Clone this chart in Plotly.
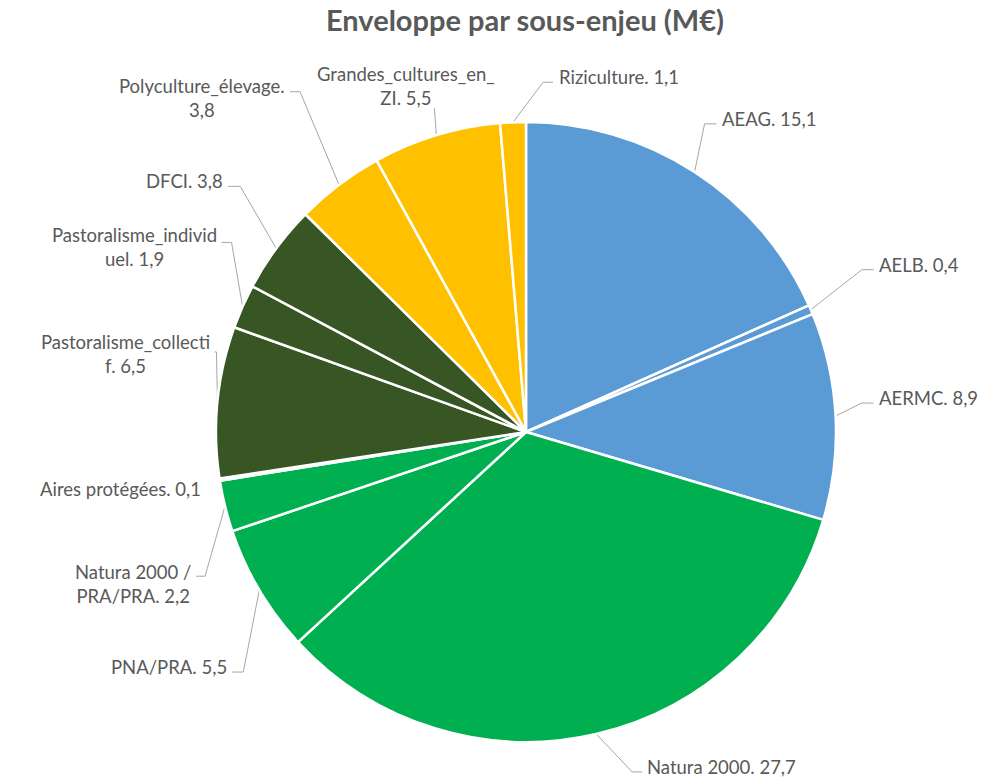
import math
import plotly.graph_objects as go

# ---- data ----
labels = ["AEAG", "AELB", "AERMC", "Natura 2000", "PNA/PRA", "Natura 2000 / PRA/PRA",
          "Aires protégées", "Pastoralisme_collectif", "Pastoralisme_individuel", "DFCI",
          "Polyculture_élevage", "Grandes_cultures_en_ZI", "Riziculture"]
values = [15.1, 0.4, 8.9, 27.7, 5.5, 2.2, 0.1, 6.5, 1.9, 3.8, 3.8, 5.5, 1.1]
label_texts = ["AEAG. 15,1", "AELB. 0,4", "AERMC. 8,9", "Natura 2000. 27,7", "PNA/PRA. 5,5",
               "Natura 2000 /<br>PRA/PRA. 2,2", "Aires protégées. 0,1",
               "Pastoralisme_collecti<br>f. 6,5", "Pastoralisme_individ<br>uel. 1,9",
               "DFCI. 3,8", "Polyculture_élevage.<br>3,8", "Grandes_cultures_en_<br>ZI. 5,5",
               "Riziculture. 1,1"]
colors = ["#5B9BD5", "#5B9BD5", "#5B9BD5", "#00B050", "#00B050", "#00B050", "#00B050",
          "#375623", "#375623", "#375623", "#FFC000", "#FFC000", "#FFC000"]

# ---- layout / label styling (pixel offsets relative to slice rim point) ----
OFF = 8                      # page body margin
W, H = 1002 - OFF, 778 - OFF  # figure size
CX, CY, R = 526, 432, 310     # pie centre / radius in window pixels
# (elbow dx, elbow dy, horizontal segment length, text x gap, text dy, xanchor, align)
label_style = [
    (10, -48, 12, 3, -5, "left", "left"),
    (51, -40, 12, 3, -5, "left", "left"),
    (26, -13, 12, 3, -5, "left", "left"),
    (36, 38, 10, 3, -5, "left", "left"),
    (-16, 82, -11, -3, -5, "right", "right"),
    (-20, 70, -9, -3, 8, "right", "center"),
    (None, None, 0, -17, 9, "right", "right"),
    (-1, -50, -2, -2, 2, "right", "center"),
    (-11, -64, -10, -3, 5, "right", "center"),
    (-36, -62, -12, -3, -5, "right", "right"),
    (-39, -93, -10, -3, 6, "right", "center"),
    (-2, -27, 0, None, None, "center", "center"),
    (30, -40, 10, 4, -5, "left", "left"),
]
LABEL_FONT = dict(family="Lato", size=18.5, color="#595959")

total = sum(values)
fig = go.Figure()
fig.add_trace(go.Pie(
    labels=labels, values=values, sort=False, direction="clockwise", rotation=0,
    marker=dict(colors=colors, line=dict(color="white", width=2.5)),
    textinfo="none", hoverinfo="label+value", showlegend=False,
    domain=dict(x=[(CX - R - OFF) / W, (CX + R - OFF) / W],
                y=[1 - (CY + R - OFF) / H, 1 - (CY - R - OFF) / H]),
))

annotations = []
cum = 0.0
lx, ly = [], []
for v, txt, st in zip(values, label_texts, label_style):
    mid = (cum + v / 2) / total * 2 * math.pi
    cum += v
    rx = CX + R * math.sin(mid)
    ry = CY - R * math.cos(mid)
    dx, dy, hl, gap, tdy, xa, al = st
    if dx is None:
        tx, ty = rx + gap, ry + tdy
    elif gap is None:
        ex, ey = rx + dx, ry + dy
        lx += [rx, ex, None]
        ly += [ry, ey, None]
        tx, ty = ex - 28, ey - 22
    else:
        ex, ey = rx + dx, ry + dy
        fx = ex + hl
        lx += [rx, ex, fx, None]
        ly += [ry, ey, ey, None]
        tx, ty = fx + gap, ey + tdy
    annotations.append(dict(x=tx, y=ty, xref="x", yref="y", text=txt, showarrow=False,
                            xanchor=xa, yanchor="middle", align=al, font=LABEL_FONT))

fig.add_trace(go.Scatter(x=lx, y=ly, mode="lines", line=dict(color="#A6A6A6", width=1),
                         hoverinfo="skip", showlegend=False))

fig.update_layout(
    width=W, height=H, margin=dict(l=0, r=0, t=0, b=0),
    paper_bgcolor="white", plot_bgcolor="rgba(0,0,0,0)",
    xaxis=dict(range=[OFF, OFF + W], visible=False, fixedrange=True),
    yaxis=dict(range=[OFF + H, OFF], visible=False, fixedrange=True),
    title=dict(text="<b>Enveloppe par sous-enjeu (M€)</b>", x=(525 - OFF) / W, xanchor="center",
               y=1 - 3 / H, yanchor="top",
               font=dict(family="Lato", size=29, color="#595959")),
    annotations=annotations,
)

fig.write_html("out.html")
